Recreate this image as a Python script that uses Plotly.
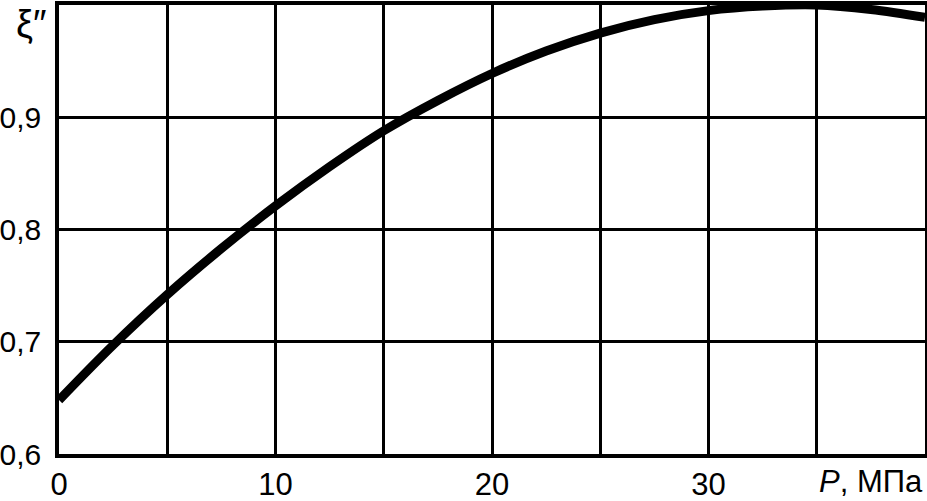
import plotly.graph_objects as go

# Data
pressure_mpa = [0, 2.5, 5, 7.5, 10, 12.5, 15, 17.5, 20, 22.5, 25, 27.5, 30, 32.5, 35, 37.5, 40]
xi_values = [0.648, 0.697, 0.742, 0.783, 0.821, 0.856, 0.888, 0.915, 0.939, 0.959, 0.975, 0.987,
             0.995, 0.999, 1.000, 0.996, 0.989]

x_tick_vals = [0, 5, 10, 15, 20, 25, 30, 35, 40]
x_tick_text = ["0", "", "10", "", "20", "", "30", "", ""]
y_tick_vals = [0.6, 0.7, 0.8, 0.9, 1.0]
y_tick_text = ["0,6", "0,7", "0,8", "0,9", ""]
x_title = "<i>P</i>, МПа"
y_title = "ξ″"

FONT = "Liberation Sans, Arial, sans-serif"
FSIZE = 31

fig = go.Figure()
fig.add_trace(go.Scatter(
    x=pressure_mpa, y=xi_values, mode="lines",
    line=dict(color="black", width=9, shape="spline", smoothing=1.0),
    hoverinfo="skip", showlegend=False,
))

axis_common = dict(
    showgrid=True, gridcolor="black", gridwidth=3.2,
    showline=True, linecolor="black", linewidth=3.5, mirror=True,
    zeroline=False, ticks="", automargin=False,
)

fig.update_xaxes(range=[0, 40], tickmode="array", tickvals=x_tick_vals, ticktext=x_tick_text,
                 ticklabelstandoff=0, tickfont=dict(family=FONT, size=FSIZE, color="black"),
                 **axis_common)
fig.update_yaxes(range=[0.6, 1.0], tickmode="array", tickvals=y_tick_vals, ticktext=y_tick_text,
                 ticklabelstandoff=8, tickfont=dict(family=FONT, size=30, color="black"),
                 **axis_common)

fig.add_annotation(text=x_title, xref="paper", yref="paper", x=1.0, y=0,
                   xanchor="right", yanchor="top", yshift=-8, showarrow=False,
                   font=dict(family=FONT, size=FSIZE, color="black"))
fig.add_annotation(text=y_title, xref="paper", yref="paper", x=0, y=1.0,
                   xanchor="right", yanchor="top", xshift=-11, yshift=4, showarrow=False,
                   font=dict(family=FONT, size=38, color="black"))

fig.update_layout(
    width=927, height=501,
    margin=dict(l=59, r=2, t=5, b=47, autoexpand=False),
    paper_bgcolor="white", plot_bgcolor="white",
)

fig.write_html("out.html", config={"displayModeBar": False},
               post_script="document.body.style.margin='0';")
